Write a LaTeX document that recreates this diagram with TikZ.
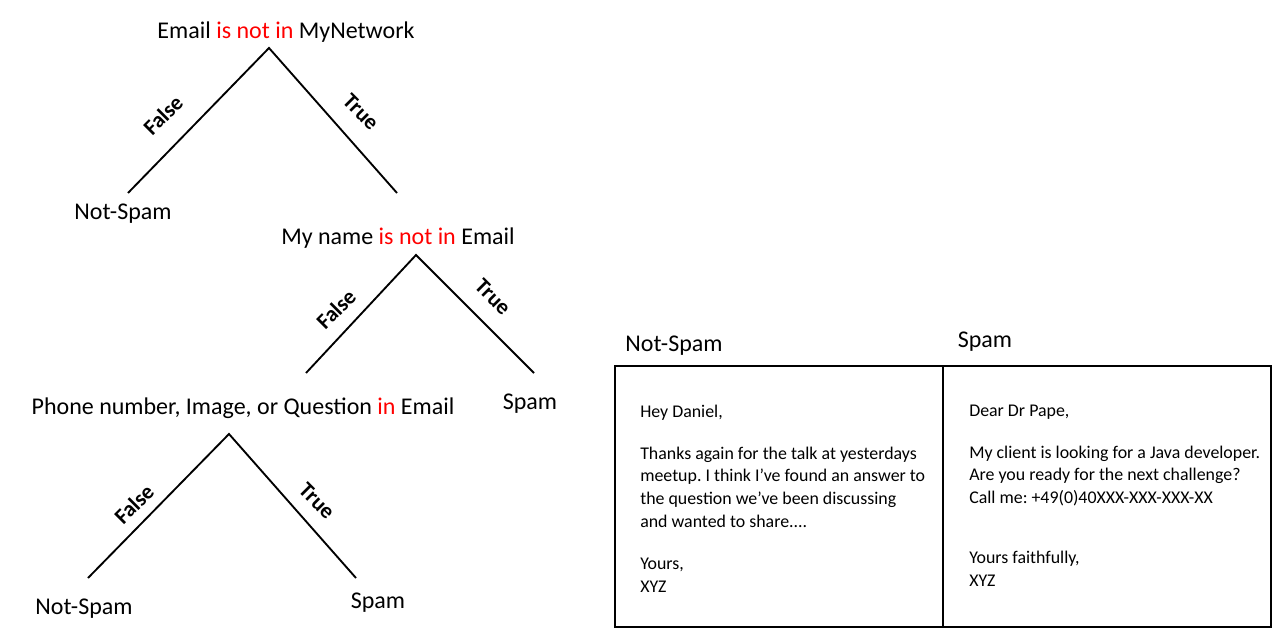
\documentclass[tikz,border=0pt]{standalone}
\usepackage{fontspec}
\setmainfont{Carlito}
\frenchspacing
\begin{document}
\begin{tikzpicture}[x=0.75pt,y=-0.75pt,
    branch/.style={line width=1.4pt},
    cond/.style={font=\fontsize{18}{21}\selectfont, yshift=-1.5pt},
    leaf/.style={font=\fontsize{18}{21}\selectfont, yshift=-1.5pt},
    edgelab/.style={font=\fontsize{16.5}{18}\selectfont\bfseries, inner sep=0pt},
    mail/.style={font=\fontsize{13.4}{17}\selectfont, align=left, anchor=north west, inner sep=0pt}]
\useasboundingbox (0,0) rectangle (1280,634);
% first split
\coordinate (R1) at (269,48);
\coordinate (R1f) at (128,193);
\coordinate (R1t) at (397,193);
\draw (286,30) node[cond] (c1) {Email \textcolor{red}{is not in} MyNetwork};
\draw[branch] (R1f) -- (R1) -- (R1t);
\draw (163,115) node[edgelab,rotate=45] (f1) {False};
\draw (361,112) node[edgelab,rotate=-45] (t1) {True};
\draw (123,212) node[leaf] (n1) {Not-Spam};
% second split
\coordinate (R2) at (416,255);
\coordinate (R2f) at (306,373);
\coordinate (R2t) at (534,373);
\draw (398,236) node[cond] (c2) {My name \textcolor{red}{is not in} Email};
\draw[branch] (R2f) -- (R2) -- (R2t);
\draw (336,309) node[edgelab,rotate=45] (f2) {False};
\draw (493,297) node[edgelab,rotate=-45] (t2) {True};
\draw (530,402) node[leaf] (s2) {Spam};
% third split
\coordinate (R3) at (229,434);
\coordinate (R3f) at (88,578);
\coordinate (R3t) at (356,578);
\draw (243,406) node[cond] (c3) {Phone number, Image, or Question \textcolor{red}{in} Email};
\draw[branch] (R3f) -- (R3) -- (R3t);
\draw (134,504) node[edgelab,rotate=45] (f3) {False};
\draw (317,501) node[edgelab,rotate=-45] (t3) {True};
\draw (84,607) node[leaf] (n3) {Not-Spam};
\draw (378,601) node[leaf] (s3) {Spam};
% example mails
\draw[line width=1pt] (615,366) rectangle (1271,627);
\draw[line width=1pt] (943,366) -- (943,627);
\draw (674,344) node[leaf] (hn) {Not-Spam};
\draw (985,340) node[leaf] (hs) {Spam};
\draw (640,405) node[mail] (mn) {Hey Daniel,\\[14pt]
  Thanks again for the talk at yesterdays\\
  meetup. I think I've found an answer to\\
  the question we've been discussing\\
  and wanted to share....\\[15pt]
  Yours,\\
  XYZ};
\draw (969,405) node[mail] (ms) {Dear Dr Pape,\\[14pt]
  My client is looking for a Java developer.\\
  Are you ready for the next challenge?\\
  Call me: +49(0)40XXX-XXX-XXX-XX\\[28pt]
  Yours faithfully,\\
  XYZ};
\end{tikzpicture}
\end{document}
